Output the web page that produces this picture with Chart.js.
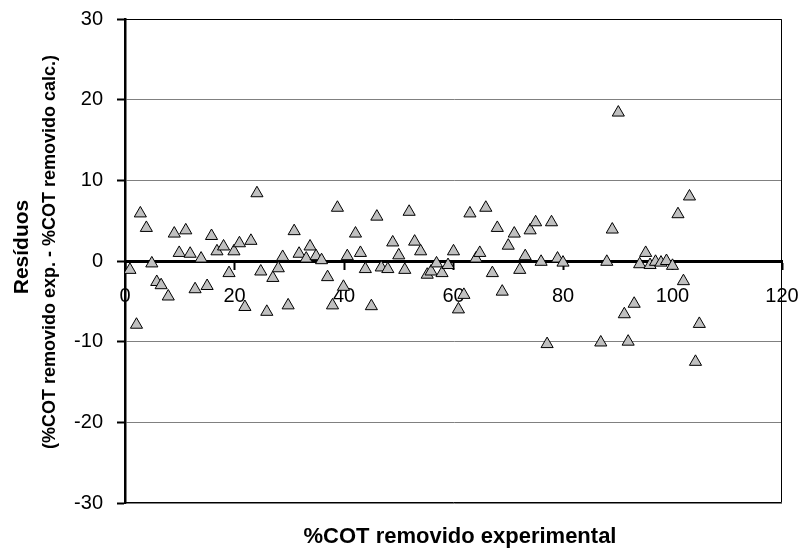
<!DOCTYPE html>
<html>
<head>
<meta charset="utf-8">
<script src="https://cdn.jsdelivr.net/npm/chart.js@4.4.1/dist/chart.umd.min.js"></script>
<style>
  html, body { margin: 0; padding: 0; background: #fff; }
  #residuos { display: block; }
</style>
</head>
<body>
<canvas id="residuos" width="804" height="553"></canvas>
<script>
// %COT removido experimental (eje x)
var cotExperimental = [
    0.9, 2.1, 2.8, 3.9, 4.9, 5.8, 6.6, 7.9, 9.0, 9.9,
    11.1, 11.9, 12.8, 13.9, 15.0, 15.8, 16.8, 18.0, 19.0, 19.9,
    20.9, 21.9, 23.0, 24.1, 24.8, 25.9, 27.0, 28.0, 28.8, 29.8,
    30.9, 31.8, 33.1, 33.8, 34.9, 35.9, 37.0, 37.9, 38.8, 39.9,
    40.6, 42.1, 43.0, 43.9, 45.0, 46.0, 46.8, 48.0, 48.9, 50.0,
    51.1, 51.9, 52.9, 54.0, 55.2, 55.9, 56.9, 57.9, 59.0, 60.0,
    60.9, 61.9, 63.0, 64.1, 64.8, 65.9, 67.1, 68.0, 68.9, 70.0,
    71.1, 72.1, 73.1, 74.0, 75.0, 76.0, 77.1, 77.9, 79.0, 80.0,
    86.9, 88.0, 89.0, 90.1, 91.2, 91.9, 93.0, 94.0, 95.1, 95.9,
    96.9, 97.9, 98.9, 100.0, 101.0, 102.0, 103.1, 104.2, 104.9
];
// Residuos (exp. - calc.)
var residuos = [
    -1.1, -7.9, 5.9, 4.1, -0.3, -2.6, -3.0, -4.4, 3.4, 1.0,
    3.8, 0.9, -3.5, 0.3, -3.1, 3.1, 1.2, 1.8, -1.5, 1.2,
    2.2, -5.7, 2.5, 8.4, -1.3, -6.3, -2.1, -0.9, 0.5, -5.5,
    3.7, 0.9, 0.3, 1.8, 0.6, 0.1, -2.0, -5.5, 6.6, -3.2,
    0.6, 3.4, 1.0, -1.0, -5.6, 5.5, -0.8, -1.0, 2.3, 0.7,
    -1.1, 6.1, 2.4, 1.2, -1.7, -1.3, -0.3, -1.5, -0.5, 1.2,
    -6.0, -4.2, 5.9, 0.3, 1.0, 6.6, -1.5, 4.1, -3.8, 1.9,
    3.4, -1.1, 0.6, 3.8, 4.8, -0.1, -10.3, 4.8, 0.3, -0.2,
    -10.1, -0.1, 3.9, 18.4, -6.6, -10.0, -5.3, -0.4, 1.0, -0.5,
    -0.1, -0.2, 0.0, -0.6, 5.8, -2.5, 8.0, -12.5, -7.8
];
var ticksX = [0, 20, 40, 60, 80, 100, 120];
var ticksY = [-30, -20, -10, 0, 10, 20, 30];

var tituloY = 'Resíduos';
var subtituloY = '(%COT removido exp. - %COT removido calc.)';
var tituloX = '%COT removido experimental';

var fuente = '"Liberation Sans", Arial, sans-serif';

var puntos = cotExperimental.map(function (x, i) {
    return { x: x, y: residuos[i] };
});

// Titulos de los ejes y borde del area de trazado
var titulosPlugin = {
    id: 'titulos',
    afterDraw: function (chart) {
        var ctx = chart.ctx;
        var area = chart.chartArea;
        ctx.save();
        ctx.strokeStyle = '#000';
        ctx.lineWidth = 1;
        ctx.beginPath();
        ctx.moveTo(area.left, area.top + 0.5);
        ctx.lineTo(area.right - 0.5, area.top + 0.5);
        ctx.lineTo(area.right - 0.5, area.bottom - 0.5);
        ctx.lineTo(area.left, area.bottom - 0.5);
        ctx.stroke();

        ctx.fillStyle = '#000';
        ctx.textAlign = 'center';
        ctx.textBaseline = 'middle';

        ctx.save();
        ctx.translate(22, 247);
        ctx.rotate(-Math.PI / 2);
        ctx.font = 'bold 21px ' + fuente;
        ctx.fillText(tituloY, 0, 0);
        ctx.restore();

        ctx.save();
        ctx.translate(50, 252);
        ctx.rotate(-Math.PI / 2);
        ctx.font = 'bold 18px ' + fuente;
        ctx.fillText(subtituloY, 0, 0);
        ctx.restore();

        ctx.font = 'bold 22px ' + fuente;
        ctx.fillText(tituloX, 460, 537);
        ctx.restore();
    }
};

var ctx = document.getElementById('residuos').getContext('2d');

var grafica = new Chart(ctx, {
    type: 'scatter',
    data: {
        datasets: [{
            label: 'Residuos',
            data: puntos,
            pointStyle: 'triangle',
            pointRadius: 7,
            pointHoverRadius: 7,
            backgroundColor: '#c0c0c0',
            borderColor: '#000',
            borderWidth: 1
        }]
    },
    options: {
        responsive: false,
        animation: false,
        layout: { padding: { top: 19, right: 22, bottom: 50, left: 0 } },
        plugins: {
            legend: { display: false },
            tooltip: { enabled: false }
        },
        scales: {
            x: {
                type: 'linear',
                position: { y: 0 },
                min: 0,
                max: 120,
                afterBuildTicks: function (scale) {
                    scale.ticks = ticksX.map(function (v) { return { value: v }; });
                },
                afterFit: function (scale) {
                    // que las etiquetas no empujen el area de trazado
                    scale.paddingLeft = 0;
                    scale.paddingRight = 0;
                },
                border: { color: '#000', width: 3 },
                grid: { drawOnChartArea: false, tickColor: '#000', tickLength: 7, tickWidth: 2 },
                ticks: { color: '#000', font: { family: fuente, size: 20 }, padding: 16, maxRotation: 0 }
            },
            y: {
                min: -30,
                max: 30,
                afterBuildTicks: function (scale) {
                    scale.ticks = ticksY.map(function (v) { return { value: v }; });
                },
                afterFit: function (scale) {
                    scale.width = 125;
                    scale.paddingTop = 0;
                    scale.paddingBottom = 0;
                },
                border: { color: '#000', width: 2.5 },
                grid: { color: '#808080', lineWidth: 1, tickColor: '#000', tickLength: 8, tickWidth: 2 },
                ticks: { color: '#000', font: { family: fuente, size: 20 }, padding: 14 }
            }
        }
    },
    plugins: [titulosPlugin]
});
</script>
</body>
</html>
